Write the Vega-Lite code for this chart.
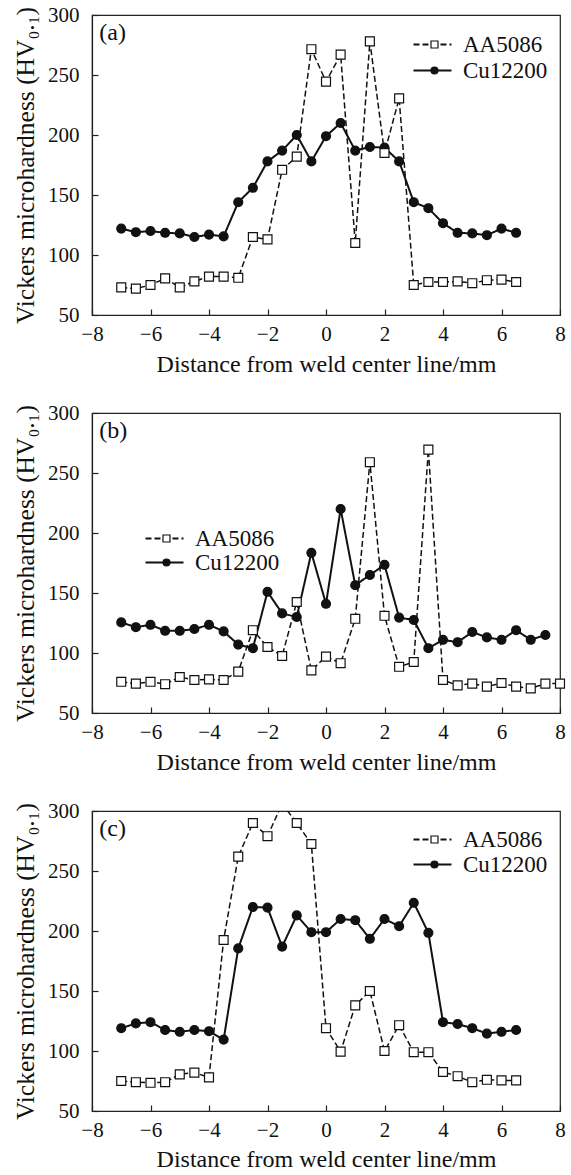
{
  "$schema": "https://vega.github.io/schema/vega-lite/v6.json",
  "padding": {"left": 12, "top": 3, "right": 5, "bottom": 5},
  "background": "white",
  "datasets": {
    "hardness": [
      {"panel": "a", "series": "Cu12200", "distance": -7, "hv": 122},
      {"panel": "a", "series": "Cu12200", "distance": -6.5, "hv": 119},
      {"panel": "a", "series": "Cu12200", "distance": -6, "hv": 120},
      {"panel": "a", "series": "Cu12200", "distance": -5.5, "hv": 118.5},
      {"panel": "a", "series": "Cu12200", "distance": -5, "hv": 118},
      {"panel": "a", "series": "Cu12200", "distance": -4.5, "hv": 115},
      {"panel": "a", "series": "Cu12200", "distance": -4, "hv": 117},
      {"panel": "a", "series": "Cu12200", "distance": -3.5, "hv": 115.5},
      {"panel": "a", "series": "Cu12200", "distance": -3, "hv": 144},
      {"panel": "a", "series": "Cu12200", "distance": -2.5, "hv": 156},
      {"panel": "a", "series": "Cu12200", "distance": -2, "hv": 178},
      {"panel": "a", "series": "Cu12200", "distance": -1.5, "hv": 187},
      {"panel": "a", "series": "Cu12200", "distance": -1, "hv": 200},
      {"panel": "a", "series": "Cu12200", "distance": -0.5, "hv": 178},
      {"panel": "a", "series": "Cu12200", "distance": 0, "hv": 199},
      {"panel": "a", "series": "Cu12200", "distance": 0.5, "hv": 210},
      {"panel": "a", "series": "Cu12200", "distance": 1, "hv": 187},
      {"panel": "a", "series": "Cu12200", "distance": 1.5, "hv": 190},
      {"panel": "a", "series": "Cu12200", "distance": 2, "hv": 189.5},
      {"panel": "a", "series": "Cu12200", "distance": 2.5, "hv": 178},
      {"panel": "a", "series": "Cu12200", "distance": 3, "hv": 144},
      {"panel": "a", "series": "Cu12200", "distance": 3.5, "hv": 139},
      {"panel": "a", "series": "Cu12200", "distance": 4, "hv": 126.5},
      {"panel": "a", "series": "Cu12200", "distance": 4.5, "hv": 118.5},
      {"panel": "a", "series": "Cu12200", "distance": 5, "hv": 118},
      {"panel": "a", "series": "Cu12200", "distance": 5.5, "hv": 116.5},
      {"panel": "a", "series": "Cu12200", "distance": 6, "hv": 122},
      {"panel": "a", "series": "Cu12200", "distance": 6.5, "hv": 118.5},
      {"panel": "a", "series": "AA5086", "distance": -7, "hv": 73},
      {"panel": "a", "series": "AA5086", "distance": -6.5, "hv": 72},
      {"panel": "a", "series": "AA5086", "distance": -6, "hv": 75},
      {"panel": "a", "series": "AA5086", "distance": -5.5, "hv": 80.5},
      {"panel": "a", "series": "AA5086", "distance": -5, "hv": 73},
      {"panel": "a", "series": "AA5086", "distance": -4.5, "hv": 78},
      {"panel": "a", "series": "AA5086", "distance": -4, "hv": 82},
      {"panel": "a", "series": "AA5086", "distance": -3.5, "hv": 82},
      {"panel": "a", "series": "AA5086", "distance": -3, "hv": 81},
      {"panel": "a", "series": "AA5086", "distance": -2.5, "hv": 115},
      {"panel": "a", "series": "AA5086", "distance": -2, "hv": 113},
      {"panel": "a", "series": "AA5086", "distance": -1.5, "hv": 171},
      {"panel": "a", "series": "AA5086", "distance": -1, "hv": 182},
      {"panel": "a", "series": "AA5086", "distance": -0.5, "hv": 271.5},
      {"panel": "a", "series": "AA5086", "distance": 0, "hv": 244.5},
      {"panel": "a", "series": "AA5086", "distance": 0.5, "hv": 267},
      {"panel": "a", "series": "AA5086", "distance": 1, "hv": 110},
      {"panel": "a", "series": "AA5086", "distance": 1.5, "hv": 278},
      {"panel": "a", "series": "AA5086", "distance": 2, "hv": 185},
      {"panel": "a", "series": "AA5086", "distance": 2.5, "hv": 230.5},
      {"panel": "a", "series": "AA5086", "distance": 3, "hv": 75},
      {"panel": "a", "series": "AA5086", "distance": 3.5, "hv": 77.5},
      {"panel": "a", "series": "AA5086", "distance": 4, "hv": 77.5},
      {"panel": "a", "series": "AA5086", "distance": 4.5, "hv": 78},
      {"panel": "a", "series": "AA5086", "distance": 5, "hv": 76.5},
      {"panel": "a", "series": "AA5086", "distance": 5.5, "hv": 79},
      {"panel": "a", "series": "AA5086", "distance": 6, "hv": 79.5},
      {"panel": "a", "series": "AA5086", "distance": 6.5, "hv": 77.5},
      {"panel": "b", "series": "Cu12200", "distance": -7, "hv": 125.5},
      {"panel": "b", "series": "Cu12200", "distance": -6.5, "hv": 121.5},
      {"panel": "b", "series": "Cu12200", "distance": -6, "hv": 123.5},
      {"panel": "b", "series": "Cu12200", "distance": -5.5, "hv": 118.5},
      {"panel": "b", "series": "Cu12200", "distance": -5, "hv": 118.5},
      {"panel": "b", "series": "Cu12200", "distance": -4.5, "hv": 120},
      {"panel": "b", "series": "Cu12200", "distance": -4, "hv": 123.5},
      {"panel": "b", "series": "Cu12200", "distance": -3.5, "hv": 118},
      {"panel": "b", "series": "Cu12200", "distance": -3, "hv": 107},
      {"panel": "b", "series": "Cu12200", "distance": -2.5, "hv": 104},
      {"panel": "b", "series": "Cu12200", "distance": -2, "hv": 151},
      {"panel": "b", "series": "Cu12200", "distance": -1.5, "hv": 133},
      {"panel": "b", "series": "Cu12200", "distance": -1, "hv": 130},
      {"panel": "b", "series": "Cu12200", "distance": -0.5, "hv": 183.5},
      {"panel": "b", "series": "Cu12200", "distance": 0, "hv": 141},
      {"panel": "b", "series": "Cu12200", "distance": 0.5, "hv": 220},
      {"panel": "b", "series": "Cu12200", "distance": 1, "hv": 156.5},
      {"panel": "b", "series": "Cu12200", "distance": 1.5, "hv": 165},
      {"panel": "b", "series": "Cu12200", "distance": 2, "hv": 173.5},
      {"panel": "b", "series": "Cu12200", "distance": 2.5, "hv": 129.5},
      {"panel": "b", "series": "Cu12200", "distance": 3, "hv": 127.5},
      {"panel": "b", "series": "Cu12200", "distance": 3.5, "hv": 104},
      {"panel": "b", "series": "Cu12200", "distance": 4, "hv": 111},
      {"panel": "b", "series": "Cu12200", "distance": 4.5, "hv": 109},
      {"panel": "b", "series": "Cu12200", "distance": 5, "hv": 117.5},
      {"panel": "b", "series": "Cu12200", "distance": 5.5, "hv": 113},
      {"panel": "b", "series": "Cu12200", "distance": 6, "hv": 111},
      {"panel": "b", "series": "Cu12200", "distance": 6.5, "hv": 119},
      {"panel": "b", "series": "Cu12200", "distance": 7, "hv": 111},
      {"panel": "b", "series": "Cu12200", "distance": 7.5, "hv": 115},
      {"panel": "b", "series": "AA5086", "distance": -7, "hv": 76},
      {"panel": "b", "series": "AA5086", "distance": -6.5, "hv": 74.5},
      {"panel": "b", "series": "AA5086", "distance": -6, "hv": 76},
      {"panel": "b", "series": "AA5086", "distance": -5.5, "hv": 74},
      {"panel": "b", "series": "AA5086", "distance": -5, "hv": 80},
      {"panel": "b", "series": "AA5086", "distance": -4.5, "hv": 77.5},
      {"panel": "b", "series": "AA5086", "distance": -4, "hv": 78},
      {"panel": "b", "series": "AA5086", "distance": -3.5, "hv": 77.5},
      {"panel": "b", "series": "AA5086", "distance": -3, "hv": 84.5},
      {"panel": "b", "series": "AA5086", "distance": -2.5, "hv": 119},
      {"panel": "b", "series": "AA5086", "distance": -2, "hv": 105},
      {"panel": "b", "series": "AA5086", "distance": -1.5, "hv": 97.5},
      {"panel": "b", "series": "AA5086", "distance": -1, "hv": 142.5},
      {"panel": "b", "series": "AA5086", "distance": -0.5, "hv": 85.5},
      {"panel": "b", "series": "AA5086", "distance": 0, "hv": 97},
      {"panel": "b", "series": "AA5086", "distance": 0.5, "hv": 91.5},
      {"panel": "b", "series": "AA5086", "distance": 1, "hv": 128.5},
      {"panel": "b", "series": "AA5086", "distance": 1.5, "hv": 259},
      {"panel": "b", "series": "AA5086", "distance": 2, "hv": 131},
      {"panel": "b", "series": "AA5086", "distance": 2.5, "hv": 88.5},
      {"panel": "b", "series": "AA5086", "distance": 3, "hv": 92.5},
      {"panel": "b", "series": "AA5086", "distance": 3.5, "hv": 269.5},
      {"panel": "b", "series": "AA5086", "distance": 4, "hv": 77.5},
      {"panel": "b", "series": "AA5086", "distance": 4.5, "hv": 73},
      {"panel": "b", "series": "AA5086", "distance": 5, "hv": 74.5},
      {"panel": "b", "series": "AA5086", "distance": 5.5, "hv": 72},
      {"panel": "b", "series": "AA5086", "distance": 6, "hv": 75},
      {"panel": "b", "series": "AA5086", "distance": 6.5, "hv": 72},
      {"panel": "b", "series": "AA5086", "distance": 7, "hv": 70.5},
      {"panel": "b", "series": "AA5086", "distance": 7.5, "hv": 74.5},
      {"panel": "b", "series": "AA5086", "distance": 8, "hv": 74.5},
      {"panel": "c", "series": "Cu12200", "distance": -7, "hv": 119},
      {"panel": "c", "series": "Cu12200", "distance": -6.5, "hv": 123},
      {"panel": "c", "series": "Cu12200", "distance": -6, "hv": 124},
      {"panel": "c", "series": "Cu12200", "distance": -5.5, "hv": 117.5},
      {"panel": "c", "series": "Cu12200", "distance": -5, "hv": 116},
      {"panel": "c", "series": "Cu12200", "distance": -4.5, "hv": 117.5},
      {"panel": "c", "series": "Cu12200", "distance": -4, "hv": 116.5},
      {"panel": "c", "series": "Cu12200", "distance": -3.5, "hv": 109.5},
      {"panel": "c", "series": "Cu12200", "distance": -3, "hv": 185.5},
      {"panel": "c", "series": "Cu12200", "distance": -2.5, "hv": 220},
      {"panel": "c", "series": "Cu12200", "distance": -2, "hv": 219.5},
      {"panel": "c", "series": "Cu12200", "distance": -1.5, "hv": 187},
      {"panel": "c", "series": "Cu12200", "distance": -1, "hv": 213},
      {"panel": "c", "series": "Cu12200", "distance": -0.5, "hv": 199},
      {"panel": "c", "series": "Cu12200", "distance": 0, "hv": 199},
      {"panel": "c", "series": "Cu12200", "distance": 0.5, "hv": 210},
      {"panel": "c", "series": "Cu12200", "distance": 1, "hv": 209},
      {"panel": "c", "series": "Cu12200", "distance": 1.5, "hv": 193.5},
      {"panel": "c", "series": "Cu12200", "distance": 2, "hv": 210},
      {"panel": "c", "series": "Cu12200", "distance": 2.5, "hv": 204},
      {"panel": "c", "series": "Cu12200", "distance": 3, "hv": 223.5},
      {"panel": "c", "series": "Cu12200", "distance": 3.5, "hv": 198.5},
      {"panel": "c", "series": "Cu12200", "distance": 4, "hv": 124},
      {"panel": "c", "series": "Cu12200", "distance": 4.5, "hv": 122.5},
      {"panel": "c", "series": "Cu12200", "distance": 5, "hv": 119},
      {"panel": "c", "series": "Cu12200", "distance": 5.5, "hv": 114.5},
      {"panel": "c", "series": "Cu12200", "distance": 6, "hv": 116},
      {"panel": "c", "series": "Cu12200", "distance": 6.5, "hv": 117.5},
      {"panel": "c", "series": "AA5086", "distance": -7, "hv": 75},
      {"panel": "c", "series": "AA5086", "distance": -6.5, "hv": 74},
      {"panel": "c", "series": "AA5086", "distance": -6, "hv": 73.5},
      {"panel": "c", "series": "AA5086", "distance": -5.5, "hv": 74},
      {"panel": "c", "series": "AA5086", "distance": -5, "hv": 80.5},
      {"panel": "c", "series": "AA5086", "distance": -4.5, "hv": 82},
      {"panel": "c", "series": "AA5086", "distance": -4, "hv": 78},
      {"panel": "c", "series": "AA5086", "distance": -3.5, "hv": 192.5},
      {"panel": "c", "series": "AA5086", "distance": -3, "hv": 262},
      {"panel": "c", "series": "AA5086", "distance": -2.5, "hv": 290},
      {"panel": "c", "series": "AA5086", "distance": -2, "hv": 279},
      {"panel": "c", "series": "AA5086", "distance": -1.5, "hv": 306},
      {"panel": "c", "series": "AA5086", "distance": -1, "hv": 290},
      {"panel": "c", "series": "AA5086", "distance": -0.5, "hv": 272.5},
      {"panel": "c", "series": "AA5086", "distance": 0, "hv": 119},
      {"panel": "c", "series": "AA5086", "distance": 0.5, "hv": 99.5},
      {"panel": "c", "series": "AA5086", "distance": 1, "hv": 138},
      {"panel": "c", "series": "AA5086", "distance": 1.5, "hv": 150},
      {"panel": "c", "series": "AA5086", "distance": 2, "hv": 100},
      {"panel": "c", "series": "AA5086", "distance": 2.5, "hv": 121.5},
      {"panel": "c", "series": "AA5086", "distance": 3, "hv": 99},
      {"panel": "c", "series": "AA5086", "distance": 3.5, "hv": 99},
      {"panel": "c", "series": "AA5086", "distance": 4, "hv": 82.5},
      {"panel": "c", "series": "AA5086", "distance": 4.5, "hv": 79},
      {"panel": "c", "series": "AA5086", "distance": 5, "hv": 74},
      {"panel": "c", "series": "AA5086", "distance": 5.5, "hv": 76},
      {"panel": "c", "series": "AA5086", "distance": 6, "hv": 75.5},
      {"panel": "c", "series": "AA5086", "distance": 6.5, "hv": 75.5}
    ]
  },
  "spacing": 98,
  "bounds": "flush",
  "resolve": {
    "scale": {"fill": "independent", "shape": "independent", "strokeDash": "independent"},
    "legend": {"fill": "independent", "shape": "independent", "strokeDash": "independent"}
  },
  "vconcat": [
    {
      "width": 468,
      "height": 300,
      "layer": [
        {
          "data": {"name": "hardness"},
          "transform": [{"filter": "datum.panel === 'a'"}],
          "mark": {"type": "line", "color": "#111"},
          "encoding": {
            "x": {"field": "distance", "type": "quantitative", "scale": {"domain": [-8, 8], "nice": false, "zero": false}, "axis": {"values": [-8, -6, -4, -2, 0, 2, 4, 6, 8], "title": "Distance from weld center line/mm", "labelPadding": 14, "titlePadding": 8}},
            "y": {"field": "hv", "type": "quantitative", "scale": {"domain": [50, 300], "nice": false, "zero": false}, "axis": {"values": [50, 100, 150, 200, 250, 300], "title": "Vickers microhardness (HV₀.₁)", "labelPadding": 19, "titlePadding": 9}},
            "strokeDash": {"field": "series", "type": "nominal", "scale": {"range": [[6, 3], [1, 0]]},
              "legend": {"orient": "none", "legendX": 329, "legendY": 18, "title": null, "symbolType": "M-3.8,0H3.8", "symbolSize": 100, "symbolStrokeColor": "#111", "symbolStrokeWidth": 1.8, "labelFont": "Liberation Serif", "labelFontSize": 23, "labelColor": "#111", "labelOffset": 19, "rowPadding": 2, "padding": 0}},
            "strokeWidth": {"condition": {"test": "datum.series === 'AA5086'", "value": 1.5}, "value": 2}
          }
        },
        {
          "data": {"name": "hardness"},
          "transform": [{"filter": "datum.panel === 'a'"}],
          "mark": {"type": "point", "filled": true, "size": 80, "opacity": 1, "stroke": "#111", "strokeWidth": 1.2},
          "encoding": {
            "x": {"field": "distance", "type": "quantitative", "scale": {"domain": [-8, 8], "nice": false, "zero": false}},
            "y": {"field": "hv", "type": "quantitative", "scale": {"domain": [50, 300], "nice": false, "zero": false}},
            "stroke": {"value": "#111"},
            "shape": {"field": "series", "type": "nominal", "scale": {"domain": ["AA5086", "Cu12200"], "range": ["square", "circle"]},
              "legend": {"orient": "none", "legendX": 331, "legendY": 18, "title": null, "symbolSize": 49, "symbolStrokeWidth": 1.2, "symbolOpacity": 1, "labelFont": "Liberation Serif", "labelFontSize": 23, "labelOpacity": 0, "labelOffset": 19, "rowPadding": 2, "padding": 0}},
            "fill": {"field": "series", "type": "nominal", "scale": {"domain": ["AA5086", "Cu12200"], "range": ["white", "#111"]},
              "legend": {"orient": "none", "legendX": 331, "legendY": 18, "title": null, "symbolSize": 49, "symbolStrokeWidth": 1.2, "symbolOpacity": 1, "labelFont": "Liberation Serif", "labelFontSize": 23, "labelOpacity": 0, "labelOffset": 19, "rowPadding": 2, "padding": 0}}
          }
        },
        {
          "data": {"values": [{"label": "(a)"}]},
          "mark": {"type": "text", "align": "left", "baseline": "middle", "font": "Liberation Serif", "fontSize": 24, "color": "#111"},
          "encoding": {
            "x": {"datum": -7.75, "type": "quantitative"},
            "y": {"datum": 285, "type": "quantitative"},
            "text": {"field": "label"}
          }
        }
      ]
    },
    {
      "width": 468,
      "height": 300,
      "layer": [
        {
          "data": {"name": "hardness"},
          "transform": [{"filter": "datum.panel === 'b'"}],
          "mark": {"type": "line", "color": "#111"},
          "encoding": {
            "x": {"field": "distance", "type": "quantitative", "scale": {"domain": [-8, 8], "nice": false, "zero": false}, "axis": {"values": [-8, -6, -4, -2, 0, 2, 4, 6, 8], "title": "Distance from weld center line/mm", "labelPadding": 14, "titlePadding": 8}},
            "y": {"field": "hv", "type": "quantitative", "scale": {"domain": [50, 300], "nice": false, "zero": false}, "axis": {"values": [50, 100, 150, 200, 250, 300], "title": "Vickers microhardness (HV₀.₁)", "labelPadding": 19, "titlePadding": 9}},
            "strokeDash": {"field": "series", "type": "nominal", "scale": {"range": [[6, 3], [1, 0]]},
              "legend": {"orient": "none", "legendX": 61, "legendY": 114, "title": null, "symbolType": "M-3.8,0H3.8", "symbolSize": 100, "symbolStrokeColor": "#111", "symbolStrokeWidth": 1.8, "labelFont": "Liberation Serif", "labelFontSize": 23, "labelColor": "#111", "labelOffset": 19, "rowPadding": 0, "padding": 0}},
            "strokeWidth": {"condition": {"test": "datum.series === 'AA5086'", "value": 1.5}, "value": 2}
          }
        },
        {
          "data": {"name": "hardness"},
          "transform": [{"filter": "datum.panel === 'b'"}],
          "mark": {"type": "point", "filled": true, "size": 80, "opacity": 1, "stroke": "#111", "strokeWidth": 1.2},
          "encoding": {
            "x": {"field": "distance", "type": "quantitative", "scale": {"domain": [-8, 8], "nice": false, "zero": false}},
            "y": {"field": "hv", "type": "quantitative", "scale": {"domain": [50, 300], "nice": false, "zero": false}},
            "stroke": {"value": "#111"},
            "shape": {"field": "series", "type": "nominal", "scale": {"domain": ["AA5086", "Cu12200"], "range": ["square", "circle"]},
              "legend": {"orient": "none", "legendX": 63, "legendY": 114, "title": null, "symbolSize": 49, "symbolStrokeWidth": 1.2, "symbolOpacity": 1, "labelFont": "Liberation Serif", "labelFontSize": 23, "labelOpacity": 0, "labelOffset": 19, "rowPadding": 0, "padding": 0}},
            "fill": {"field": "series", "type": "nominal", "scale": {"domain": ["AA5086", "Cu12200"], "range": ["white", "#111"]},
              "legend": {"orient": "none", "legendX": 63, "legendY": 114, "title": null, "symbolSize": 49, "symbolStrokeWidth": 1.2, "symbolOpacity": 1, "labelFont": "Liberation Serif", "labelFontSize": 23, "labelOpacity": 0, "labelOffset": 19, "rowPadding": 0, "padding": 0}}
          }
        },
        {
          "data": {"values": [{"label": "(b)"}]},
          "mark": {"type": "text", "align": "left", "baseline": "middle", "font": "Liberation Serif", "fontSize": 24, "color": "#111"},
          "encoding": {
            "x": {"datum": -7.75, "type": "quantitative"},
            "y": {"datum": 285, "type": "quantitative"},
            "text": {"field": "label"}
          }
        }
      ]
    },
    {
      "width": 468,
      "height": 300,
      "layer": [
        {
          "data": {"name": "hardness"},
          "transform": [{"filter": "datum.panel === 'c'"}],
          "mark": {"type": "line", "color": "#111", "clip": true},
          "encoding": {
            "x": {"field": "distance", "type": "quantitative", "scale": {"domain": [-8, 8], "nice": false, "zero": false}, "axis": {"values": [-8, -6, -4, -2, 0, 2, 4, 6, 8], "title": "Distance from weld center line/mm", "labelPadding": 14, "titlePadding": 7}},
            "y": {"field": "hv", "type": "quantitative", "scale": {"domain": [50, 300], "nice": false, "zero": false}, "axis": {"values": [50, 100, 150, 200, 250, 300], "title": "Vickers microhardness (HV₀.₁)", "labelPadding": 19, "titlePadding": 9}},
            "strokeDash": {"field": "series", "type": "nominal", "scale": {"range": [[6, 3], [1, 0]]},
              "legend": {"orient": "none", "legendX": 329, "legendY": 17, "title": null, "symbolType": "M-3.8,0H3.8", "symbolSize": 100, "symbolStrokeColor": "#111", "symbolStrokeWidth": 1.8, "labelFont": "Liberation Serif", "labelFontSize": 23, "labelColor": "#111", "labelOffset": 19, "rowPadding": 1, "padding": 0}},
            "strokeWidth": {"condition": {"test": "datum.series === 'AA5086'", "value": 1.5}, "value": 2}
          }
        },
        {
          "data": {"name": "hardness"},
          "transform": [{"filter": "datum.panel === 'c'"}],
          "mark": {"type": "point", "filled": true, "size": 80, "opacity": 1, "stroke": "#111", "strokeWidth": 1.2, "clip": true},
          "encoding": {
            "x": {"field": "distance", "type": "quantitative", "scale": {"domain": [-8, 8], "nice": false, "zero": false}},
            "y": {"field": "hv", "type": "quantitative", "scale": {"domain": [50, 300], "nice": false, "zero": false}},
            "stroke": {"value": "#111"},
            "shape": {"field": "series", "type": "nominal", "scale": {"domain": ["AA5086", "Cu12200"], "range": ["square", "circle"]},
              "legend": {"orient": "none", "legendX": 331, "legendY": 17, "title": null, "symbolSize": 49, "symbolStrokeWidth": 1.2, "symbolOpacity": 1, "labelFont": "Liberation Serif", "labelFontSize": 23, "labelOpacity": 0, "labelOffset": 19, "rowPadding": 1, "padding": 0}},
            "fill": {"field": "series", "type": "nominal", "scale": {"domain": ["AA5086", "Cu12200"], "range": ["white", "#111"]},
              "legend": {"orient": "none", "legendX": 331, "legendY": 17, "title": null, "symbolSize": 49, "symbolStrokeWidth": 1.2, "symbolOpacity": 1, "labelFont": "Liberation Serif", "labelFontSize": 23, "labelOpacity": 0, "labelOffset": 19, "rowPadding": 1, "padding": 0}}
          }
        },
        {
          "data": {"values": [{"label": "(c)"}]},
          "mark": {"type": "text", "align": "left", "baseline": "middle", "font": "Liberation Serif", "fontSize": 24, "color": "#111"},
          "encoding": {
            "x": {"datum": -7.75, "type": "quantitative"},
            "y": {"datum": 285, "type": "quantitative"},
            "text": {"field": "label"}
          }
        }
      ]
    }
  ],
  "config": {
    "font": "Liberation Serif",
    "view": {"stroke": "#222", "strokeWidth": 1.2},
    "axis": {
      "grid": false,
      "labelFont": "Liberation Serif",
      "labelFontSize": 21,
      "labelColor": "#111",
      "labelFlush": false,
      "labelOverlap": false,
      "titleFont": "Liberation Serif",
      "titleFontSize": 24,
      "titleFontWeight": "normal",
      "titleColor": "#111",
      "domainColor": "#222",
      "domainWidth": 1.2,
      "tickColor": "#222",
      "tickWidth": 1.2,
      "tickSize": -6
    },
    "axisY": {"titleFontSize": 25.5}
  }
}
